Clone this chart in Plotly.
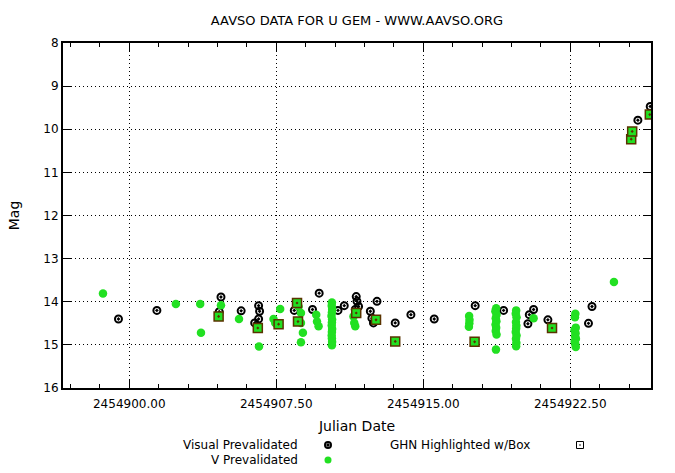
import plotly.graph_objects as go

# ---- data (Julian Date, magnitude) ----
visual_jd = [2454899.45, 2454901.41, 2454904.68, 2454904.59, 2454905.71, 2454906.60, 2454906.65,
             2454906.60, 2454906.40, 2454908.42, 2454909.35, 2454909.69, 2454910.65, 2454910.97,
             2454911.58, 2454911.62, 2454911.70, 2454911.53, 2454912.64, 2454912.30, 2454912.38,
             2454912.46, 2454913.57, 2454914.37, 2454915.56, 2454917.65, 2454919.10, 2454920.63,
             2454920.41, 2454920.34, 2454921.36, 2454923.61, 2454923.43, 2454925.95, 2454926.58]
visual_mag = [14.40, 14.20, 13.89, 14.23, 14.21, 14.09, 14.22,
              14.40, 14.49, 14.20, 14.18, 13.80, 14.20, 14.09,
              13.88, 13.99, 14.11, 14.18, 13.99, 14.22, 14.38,
              14.49, 14.49, 14.30, 14.40, 14.09, 14.20, 14.18,
              14.30, 14.51, 14.42, 14.11, 14.50, 9.79, 9.47]

v_jd = [2454898.66, 2454902.38, 2454903.62, 2454903.66, 2454904.68, 2454905.60, 2454906.62,
        2454907.70, 2454907.36, 2454907.45, 2454908.64, 2454908.76, 2454908.76, 2454908.86,
        2454908.76, 2454909.54, 2454909.58, 2454909.66,
        2454910.34, 2454910.33, 2454910.35, 2454910.34, 2454910.32, 2454910.35, 2454910.34,
        2454910.33, 2454910.35, 2454910.34, 2454910.33, 2454910.34, 2454910.35, 2454910.34,
        2454911.44, 2454911.48, 2454911.53,
        2454917.34, 2454917.36, 2454917.35, 2454917.33,
        2454918.71,
        2454918.72, 2454918.68, 2454918.74, 2454918.70, 2454918.73, 2454918.69, 2454918.72,
        2454918.70, 2454918.74,
        2454919.74, 2454919.72, 2454919.76, 2454919.73, 2454919.75, 2454919.74, 2454919.72,
        2454919.76, 2454919.73, 2454919.75, 2454919.74,
        2454920.63,
        2454922.76, 2454922.74, 2454922.78, 2454922.72, 2454922.77, 2454922.75, 2454922.79,
        2454922.73, 2454922.76, 2454922.78,
        2454924.73]
v_mag = [13.81, 14.05, 14.05, 14.72, 14.08, 14.40, 15.04,
         14.17, 14.40, 14.49, 14.11, 14.26, 14.49, 14.72,
         14.94, 14.30, 14.46, 14.57,
         14.02, 14.09, 14.17, 14.25, 14.33, 14.41, 14.48,
         14.55, 14.63, 14.70, 14.78, 14.85, 14.93, 15.01,
         14.34, 14.49, 14.57,
         14.33, 14.42, 14.50, 14.58,
         15.11,
         14.15, 14.22, 14.30, 14.38, 14.45, 14.53, 14.60,
         14.68, 14.76,
         14.20, 14.28, 14.36, 14.47, 14.55, 14.62, 14.70,
         14.78, 14.86, 14.95, 15.03,
         14.38,
         14.28, 14.36, 14.60, 14.66, 14.73, 14.80, 14.86,
         14.92, 14.98, 15.05,
         13.54]

ghn_jd = [2454904.56, 2454906.56, 2454907.62, 2454908.56, 2454908.61, 2454911.58, 2454912.59,
          2454913.57, 2454917.62, 2454921.57, 2454925.61, 2454925.66, 2454926.56]
ghn_mag = [14.34, 14.61, 14.52, 14.03, 14.46, 14.26, 14.42,
           14.92, 14.93, 14.61, 10.23, 10.05, 9.66]

x_range = [2454896.62, 2454926.62]
y_range = [16, 8]
x_tick0 = 2454900.0
x_dtick = 7.5
x_minor = 1.5

title_text = "AAVSO DATA FOR U GEM - WWW.AAVSO.ORG"
legend_labels = ["Visual Prevalidated", "V Prevalidated", "GHN Highlighted w/Box"]

GREEN = "#22e022"
BOX = "#5a3300"
FONT = "DejaVu Sans"
GRID_DASH = "1px,3px"

fig = go.Figure()
fig.add_trace(go.Scatter(x=visual_jd, y=visual_mag, mode="markers", name=legend_labels[0],
                         marker=dict(symbol="circle-open-dot", size=7, color="black",
                                     line=dict(width=2, color="black")),
                         showlegend=False, xaxis="x", yaxis="y"))
fig.add_trace(go.Scatter(x=v_jd, y=v_mag, mode="markers", name=legend_labels[1],
                         marker=dict(symbol="circle", size=8.5, color=GREEN, line=dict(width=0)),
                         showlegend=False, xaxis="x", yaxis="y"))
fig.add_trace(go.Scatter(x=ghn_jd, y=ghn_mag, mode="markers", name=legend_labels[2],
                         marker=dict(symbol="square-dot", size=9, color=GREEN,
                                     line=dict(width=1.5, color=BOX)),
                         showlegend=False, xaxis="x", yaxis="y"))

# legend keys (on an auxiliary pixel-like axis below the plot)
leg_sym_x = [328, 328, 580]
leg_sym_y = [445, 460, 445]
fig.add_trace(go.Scatter(x=leg_sym_x[:1], y=leg_sym_y[:1], mode="markers", xaxis="x2", yaxis="y2",
                         marker=dict(symbol="circle-open-dot", size=6, color="black",
                                     line=dict(width=2, color="black")),
                         showlegend=False, hoverinfo="skip"))
fig.add_trace(go.Scatter(x=leg_sym_x[1:2], y=leg_sym_y[1:2], mode="markers", xaxis="x2", yaxis="y2",
                         marker=dict(symbol="circle", size=7, color=GREEN),
                         showlegend=False, hoverinfo="skip"))
fig.add_trace(go.Scatter(x=leg_sym_x[2:], y=leg_sym_y[2:], mode="markers", xaxis="x2", yaxis="y2",
                         marker=dict(symbol="square-open-dot", size=7, color="black",
                                     line=dict(width=1, color="black")),
                         showlegend=False, hoverinfo="skip"))

leg_text_x = [300, 300, 532]
for lbl, tx, ty in zip(legend_labels, leg_text_x, leg_sym_y):
    fig.add_annotation(x=tx, y=ty, xref="x2", yref="y2", text=lbl, showarrow=False,
                       xanchor="right", yanchor="middle",
                       font=dict(family=FONT, size=12, color="black"))

H = 473
plot_bottom = 388
main_dom0 = (H - 43 - (plot_bottom - 43)) / (H - 43)

fig.update_layout(
    width=675, height=473,
    margin=dict(l=63, r=24, t=43, b=0, autoexpand=False),
    paper_bgcolor="white", plot_bgcolor="white",
    font=dict(family=FONT, size=12, color="black"),
    title=dict(text=title_text, x=(63 + 651) / 2 / 675, xref="container", xanchor="center",
               y=(H - 20) / H, yref="container", yanchor="middle",
               font=dict(family=FONT, size=13, color="black")),
    xaxis=dict(range=x_range, tick0=x_tick0, dtick=x_dtick, tickformat=".2f",
               ticks="inside", ticklen=8, tickwidth=1, tickcolor="black",
               ticklabelstandoff=4, automargin=False,
               minor=dict(dtick=x_minor, tick0=x_tick0, ticks="inside", ticklen=4,
                          tickcolor="black", showgrid=False),
               showgrid=True, gridcolor="black", griddash=GRID_DASH, gridwidth=1,
               showline=True, linecolor="black", linewidth=2, mirror="allticks",
               zeroline=False, title=dict(text="Julian Date", standoff=11),
               domain=[0, 1], anchor="y"),
    yaxis=dict(range=y_range, dtick=1, ticks="inside", ticklen=8, tickcolor="black",
               automargin=False,
               showgrid=True, gridcolor="black", griddash=GRID_DASH, gridwidth=1,
               showline=True, linecolor="black", linewidth=2, mirror="allticks",
               zeroline=False, title=dict(text="Mag", standoff=20),
               domain=[main_dom0, 1], anchor="x"),
    xaxis2=dict(range=[63, 651], domain=[0, 1], anchor="y2", visible=False, fixedrange=True),
    yaxis2=dict(range=[H, plot_bottom], domain=[0, main_dom0 - 0.0001], anchor="x2",
                visible=False, fixedrange=True),
)

fig.write_html("out.html")
